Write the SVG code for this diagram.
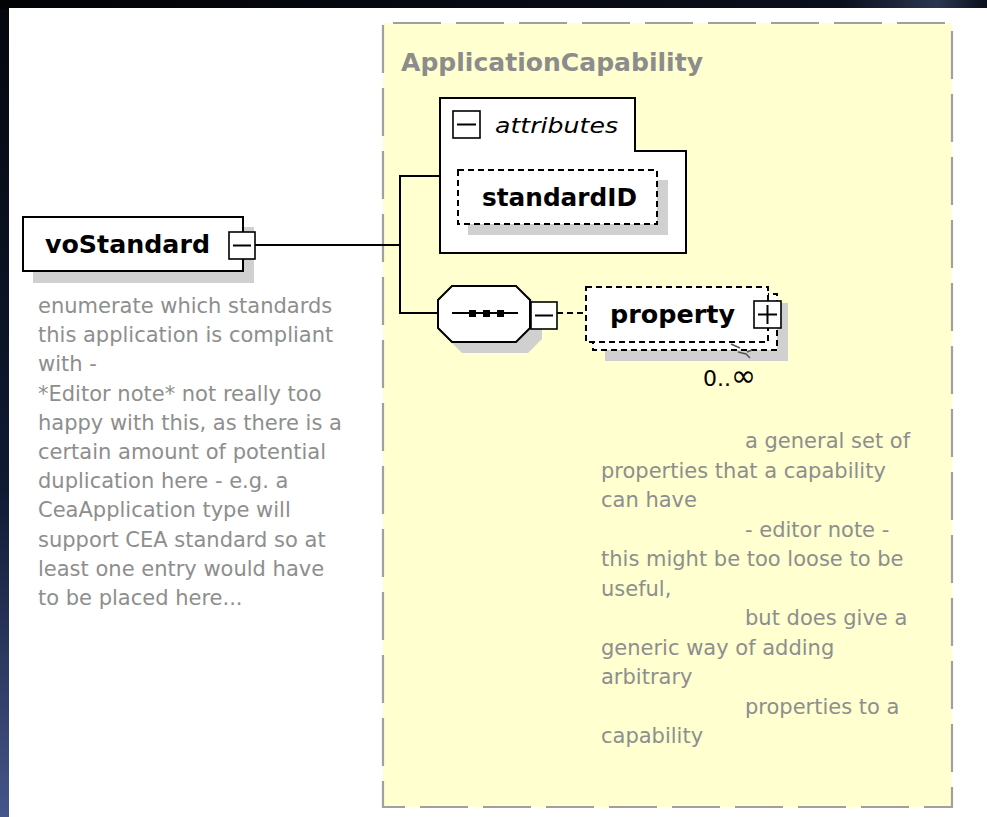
<svg xmlns="http://www.w3.org/2000/svg" width="987" height="817" viewBox="0 0 987 817">
<defs>
<linearGradient id="bg" x1="0" y1="0" x2="0" y2="1">
<stop offset="0" stop-color="#05070d"/>
<stop offset="0.6" stop-color="#0f1a33"/>
<stop offset="1" stop-color="#46558a"/>
</linearGradient>
<linearGradient id="topband" x1="0" y1="0" x2="1" y2="0">
<stop offset="0" stop-color="#020305"/>
<stop offset="0.85" stop-color="#0a0f1c"/>
<stop offset="0.95" stop-color="#2a3550"/>
<stop offset="1" stop-color="#0a0f1c"/>
</linearGradient>
<style>
.ln{stroke:#000;stroke-width:2;fill:none}
.box{fill:#fff;stroke:#000;stroke-width:2}
.dbox{fill:#fff;stroke:#000;stroke-width:2;stroke-dasharray:6 4}
.shadow{fill:#d0d0d0}
.btn{fill:#fff;stroke:#000;stroke-width:1.6}
.name{font-family:"DejaVu Sans",sans-serif;font-weight:bold;font-size:24px;fill:#000}
.note{font-family:"DejaVu Sans",sans-serif;font-size:21px;fill:#8e8e8e}
</style>
</defs>
<rect x="0" y="0" width="987" height="817" fill="url(#bg)"/>
<rect x="0" y="0" width="987" height="9" fill="url(#topband)"/>
<rect x="9" y="8" width="978" height="809" fill="#fff"/>

<g id="ApplicationCapability">
<rect x="383" y="23" width="569" height="784" fill="#ffffd0"/>
<rect x="383" y="23" width="569" height="784" fill="none" stroke="#a0a0a0" stroke-width="2.2" stroke-dasharray="48 15" stroke-dashoffset="-10"/>
<text x="401" y="71" font-family="DejaVu Sans, sans-serif" font-weight="bold" font-size="25" fill="#8c8c8c" textLength="302" lengthAdjust="spacingAndGlyphs">ApplicationCapability</text>
</g>

<g id="connectors">
<line class="ln" x1="255" y1="245" x2="401" y2="245"/>
<line class="ln" x1="400" y1="175" x2="400" y2="314"/>
<line class="ln" x1="399" y1="176" x2="440" y2="176"/>
<line class="ln" x1="399" y1="313" x2="438" y2="313"/>
<line x1="557" y1="313" x2="586" y2="313" stroke="#000" stroke-width="2" stroke-dasharray="6 4"/>
</g>

<g id="voStandard">
<rect class="shadow" x="33" y="227" width="221" height="56"/>
<rect class="box" x="23" y="217" width="220" height="54"/>
<text class="name" x="45" y="253" textLength="165" lengthAdjust="spacingAndGlyphs">voStandard</text>
<rect class="btn" x="229" y="232" width="26" height="27"/>
<line x1="233" y1="245.5" x2="251" y2="245.5" stroke="#000" stroke-width="2"/>
</g>

<g id="voStandard-doc">
<text class="note">
<tspan x="38" y="313">enumerate which standards</tspan>
<tspan x="38" y="342.2">this application is compliant</tspan>
<tspan x="38" y="371.4">with -</tspan>
<tspan x="38" y="400.6">*Editor note* not really too</tspan>
<tspan x="38" y="429.8">happy with this, as there is a</tspan>
<tspan x="38" y="459">certain amount of potential</tspan>
<tspan x="38" y="488.2">duplication here - e.g. a</tspan>
<tspan x="38" y="517.4">CeaApplication type will</tspan>
<tspan x="38" y="546.6">support CEA standard so at</tspan>
<tspan x="38" y="575.8">least one entry would have</tspan>
<tspan x="38" y="605">to be placed here...</tspan>
</text>
</g>

<g id="attributes">
<polygon class="box" points="440,98 635,98 635,151 686,151 686,253 440,253"/>
<rect class="btn" x="453" y="111" width="27" height="27"/>
<line x1="457" y1="124.5" x2="476" y2="124.5" stroke="#000" stroke-width="2"/>
<text x="495" y="133" font-family="DejaVu Sans, sans-serif" font-style="italic" font-size="22" fill="#000" textLength="123" lengthAdjust="spacingAndGlyphs">attributes</text>
</g>

<g id="standardID">
<rect class="shadow" x="468" y="180" width="200" height="55"/>
<rect class="dbox" x="458" y="170" width="199" height="54"/>
<text class="name" x="482" y="206" textLength="155" lengthAdjust="spacingAndGlyphs">standardID</text>
</g>

<g id="sequence">
<polygon class="shadow" points="462,296 528,296 542,310 542,339 528,353 462,353 448,339 448,310"/>
<polygon class="box" points="452,286 516,286 530,300 530,328 516,342 452,342 438,328 438,300"/>
<line x1="452" y1="313" x2="518" y2="313" stroke="#000" stroke-width="2"/>
<rect x="469" y="310" width="7" height="7" fill="#000"/>
<rect x="483" y="310" width="7" height="7" fill="#000"/>
<rect x="497" y="310" width="7" height="7" fill="#000"/>
<rect class="btn" x="531" y="302" width="26" height="27"/>
<line x1="535" y1="315.5" x2="553" y2="315.5" stroke="#000" stroke-width="2"/>
</g>

<g id="property">
<rect class="shadow" x="605" y="303" width="183" height="58"/>
<rect class="dbox" x="593" y="294" width="184" height="56"/>
<rect class="dbox" x="586" y="287" width="182" height="55"/>
<text class="name" x="610" y="323" font-size="25" textLength="125" lengthAdjust="spacingAndGlyphs">property</text>
<rect class="btn" x="754" y="301" width="27" height="27"/>
<line x1="758" y1="314.5" x2="777" y2="314.5" stroke="#000" stroke-width="2"/>
<line x1="767.5" y1="305" x2="767.5" y2="324" stroke="#000" stroke-width="2"/>
<path d="M731,344 L740,348 M738,352 L746,354 L750,358 M747,352 L752,350" stroke="#555" stroke-width="1.5" fill="none"/>
<text x="703" y="386" font-family="DejaVu Sans, sans-serif" font-size="22" fill="#000">0..<tspan font-size="30">∞</tspan></text>
</g>

<g id="property-doc">
<text class="note">
<tspan x="745" y="448">a general set of</tspan>
<tspan x="601" y="477.5">properties that a capability</tspan>
<tspan x="601" y="507">can have</tspan>
<tspan x="745" y="536.5">- editor note -</tspan>
<tspan x="601" y="566">this might be too loose to be</tspan>
<tspan x="601" y="595.5">useful,</tspan>
<tspan x="745" y="625">but does give a</tspan>
<tspan x="601" y="654.5">generic way of adding</tspan>
<tspan x="601" y="684">arbitrary</tspan>
<tspan x="745" y="713.5">properties to a</tspan>
<tspan x="601" y="743">capability</tspan>
</text>
</g>
</svg>
